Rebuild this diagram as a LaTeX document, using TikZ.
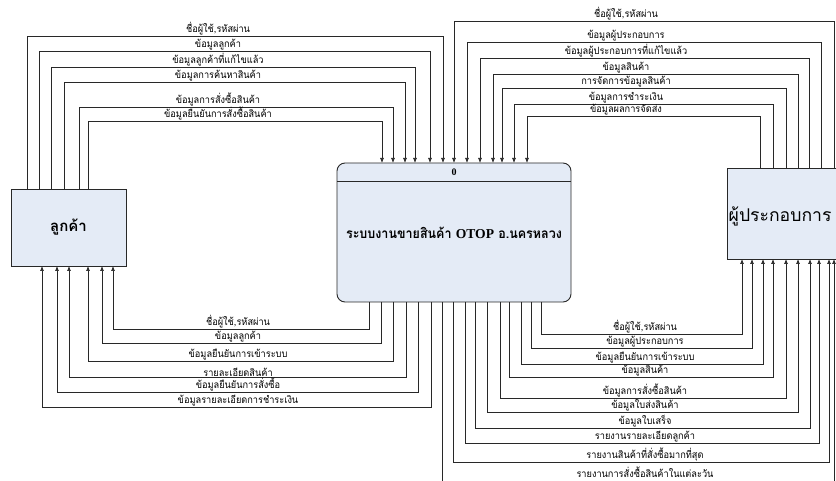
\documentclass[tikz,border=0pt]{standalone}
\usepackage{fontspec}
\usetikzlibrary{arrows.meta}
\newfontfamily\thaifont[Script=Thai,FakeStretch=0.92]{Loma}
\newfontfamily\thaiwide[Script=Thai]{Loma}
\newfontfamily\serifb{Liberation Serif}
\definecolor{boxfill}{RGB}{228,235,246}
\definecolor{linec}{RGB}{40,40,40}
\begin{document}
\begin{tikzpicture}[x=1pt,y=-1pt,
  flow/.style={draw=linec, line width=0.7pt, -{Latex[length=5pt,width=4pt]}},
  lbl/.style={font=\thaifont\fontsize{10}{11}\selectfont, anchor=south, inner sep=0.6pt},
  entity/.style={draw=linec, fill=boxfill, line width=0.9pt, inner sep=0pt, outer sep=0pt, anchor=north west},
]
\clip (0,0) rectangle (836,481);
% boxes
\node[entity, minimum width=115pt, minimum height=77pt,
      font=\thaiwide\bfseries\fontsize{15}{16}\selectfont] (cust) at (11,189) {ลูกค้า};
\node[entity, rounded corners=8pt, minimum width=234pt, minimum height=139pt] (proc) at (337,163) {};
\draw[linec, line width=0.9pt] (proc.north west |- 0,181) -- (proc.north east |- 0,181);
\node[font=\serifb\bfseries\fontsize{10}{11}\selectfont, inner sep=0pt] (pid) at (454,172.5) {0};
\node[font=\thaifont\bfseries\fontsize{13.6}{15}\selectfont, inner sep=0pt] (pname) at (454,233)
  {ระบบงานขายสินค้า {\serifb\bfseries OTOP} อ.นครหลวง};
\node[entity, minimum width=180pt, minimum height=91pt] (supp) at (727,168) {};
\node[font=\thaiwide\fontsize{17.6}{20}\selectfont, anchor=west, inner sep=0pt] (sname) at (728.5,216) {ผู้ประกอบการ};
% customer -> process (top left)
\foreach \xa/\yy/\xb/\t in {
  27/36/443/{ชื่อผู้ใช้,รหัสผ่าน},
  39/51/430/{ข้อมูลลูกค้า},
  51/67/415/{ข้อมูลลูกค้าที่แก้ไขแล้ว},
  64/82/405/{ข้อมูลการค้นหาสินค้า},
  79/107/393/{ข้อมูลการสั่งซื้อสินค้า},
  88/121/382/{ข้อมูลยืนยันการสั่งซื้อสินค้า}}{
  \draw[flow] (\xa,0 |- cust.north) -- (\xa,\yy) -- (\xb,\yy) -- (\xb,0 |- proc.north);
  \node[lbl] at (218,\yy) {\t};
}
% supplier -> process (top right)
\foreach \xa/\yy/\xb/\t in {
  454/21/834/{ชื่อผู้ใช้,รหัสผ่าน},
  467/42/821/{ข้อมูลผู้ประกอบการ},
  480/58/809/{ข้อมูลผู้ประกอบการที่แก้ไขแล้ว},
  493/74/798/{ข้อมูลสินค้า},
  502/88/786/{การจัดการข้อมูลสินค้า},
  514/104/773/{ข้อมูลการชำระเงิน},
  527/116/760/{ข้อมูลผลการจัดส่ง}}{
  \draw[flow] (\xb,0 |- supp.north) -- (\xb,\yy) -- (\xa,\yy) -- (\xa,0 |- proc.north);
  \node[lbl] at (626,\yy) {\t};
}
% process -> customer (bottom left)
\foreach \xa/\yy/\xb/\t in {
  369/329/113/{ชื่อผู้ใช้,รหัสผ่าน},
  381/343/102/{ข้อมูลลูกค้า},
  393/361/88/{ข้อมูลยืนยันการเข้าระบบ},
  406/377/69/{รายละเอียดสินค้า},
  418/392/57/{ข้อมูลยืนยันการสั่งซื้อ},
  431/407/42/{ข้อมูลรายละเอียดการชำระเงิน}}{
  \draw[flow] (\xa,0 |- proc.south) -- (\xa,\yy) -- (\xb,\yy) -- (\xb,0 |- cust.south);
  \node[lbl] at (238,\yy) {\t};
}
% process -> supplier (bottom right)
\foreach \xa/\yy/\xb/\t in {
  541/334/742/{ชื่อผู้ใช้,รหัสผ่าน},
  531/348/752/{ข้อมูลผู้ประกอบการ},
  521/364/763/{ข้อมูลยืนยันการเข้าระบบ},
  509/377/773/{ข้อมูลสินค้า},
  500/398/786/{ข้อมูลการสั่งซื้อสินค้า},
  487/412/798/{ข้อมูลใบส่งสินค้า},
  475/428/810/{ข้อมูลใบเสร็จ},
  465/443/819/{รายงานรายละเอียดลูกค้า},
  453/462/829/{รายงานสินค้าที่สั่งซื้อมากที่สุด}}{
  \draw[flow] (\xa,0 |- proc.south) -- (\xa,\yy) -- (\xb,\yy) -- (\xb,0 |- supp.south);
  \node[lbl] at (645,\yy) {\t};
}
\draw[flow] (442,0 |- proc.south) -- (442,490) -- (834,490) -- (834,0 |- supp.south);
\node[lbl] (lastlbl) at (645,478.5) {รายงานการสั่งซื้อสินค้าในแต่ละวัน};
\end{tikzpicture}
\end{document}
